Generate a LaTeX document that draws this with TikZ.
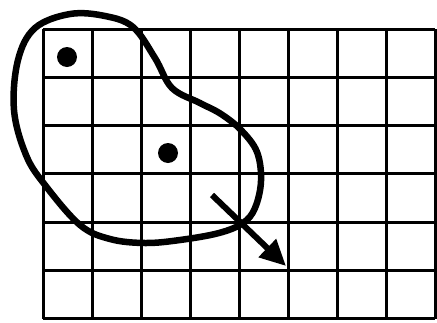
\documentclass[tikz,border=0pt]{standalone}
\usetikzlibrary{arrows.meta}
\begin{document}
\begin{tikzpicture}[x=1pt,y=-1pt,
  gridline/.style={line width=3pt},
  blob/.style={line width=6.5pt,line join=round},
  dot/.style={circle,fill=black,inner sep=0pt,minimum size=20pt},
  motion/.style={line width=6pt,-{Triangle[length=26pt,width=24pt]}}]
\useasboundingbox (0,0) rectangle (437,322);
% grid
\foreach \i in {0,...,8} \draw[gridline] ({43+\i*49},29) -- ({43+\i*49},319);
\foreach \j in {0,...,6} \draw[gridline] (43,{29+\j*48.33}) -- (435,{29+\j*48.33});
% dots
\node[dot] (d1) at (67,57) {};
\node[dot] (d2) at (168,153) {};
% blob
\draw[blob] plot[smooth cycle,tension=0.6] coordinates {
 (133,27) (155,58) (172,88) (200,103) (221,114) (241,130) (257,152)
 (261,181) (255,208) (243,223) (219,233) (180,240) (145,243) (110,239)
 (80,225) (45,185) (26,155) (14,110) (18,60) (35,28) (70,14) (105,16)};
% arrow
\coordinate (a0) at (212,195);
\coordinate (a1) at (286,266);
\draw[motion] (a0) -- (a1);
\end{tikzpicture}
\end{document}
